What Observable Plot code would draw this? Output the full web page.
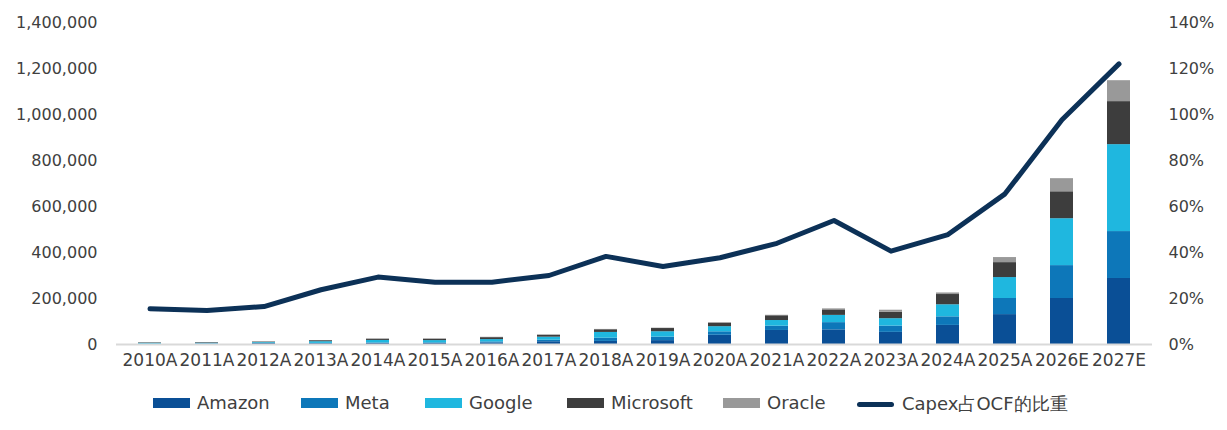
<!DOCTYPE html>
<html>
<head>
<meta charset="utf-8">
<script src="https://cdn.jsdelivr.net/npm/d3@7"></script>
<script src="https://cdn.jsdelivr.net/npm/@observablehq/plot@0.6"></script>
<style>
  body { margin: 0; background: #fff; font-family: "DejaVu Sans", sans-serif; color: #404040; }
  #legend { position: relative; height: 50px; width: 1227px; }
  .item { position: absolute; top: 12px; display: flex; align-items: center; font-size: 18px; white-space: nowrap; }
  .sw { width: 37px; height: 10px; margin-right: 7px; }
  .ln { width: 37px; height: 5px; border-radius: 3px; margin-right: 8px; }
</style>
</head>
<body>
<div id="chart"></div>
<div id="legend"></div>
<script>
const years = ["2010A","2011A","2012A","2013A","2014A","2015A","2016A","2017A","2018A","2019A","2020A","2021A","2022A","2023A","2024A","2025A","2026E","2027E"];
const companies = ["Amazon","Meta","Google","Microsoft","Oracle"];
const colors = ["#0a4f96","#0d77b9","#1fb7df","#3d3d3d","#999999"];
const lineColor = "#0c3157";
const lineLabel = "Capex占OCF的比重";

const amazon    = [979, 1811, 3785, 3444, 4893, 4589, 6737, 11955, 13427, 16861, 40140, 61053, 63645, 52729, 83004, 130000, 200000, 287000];
const meta      = [293, 606, 1235, 1362, 1831, 2523, 4491, 6733, 13915, 15102, 15115, 18567, 31431, 27266, 37256, 70000, 143000, 204000];
const google    = [4018, 3438, 3273, 7358, 10959, 9915, 10212, 13184, 25139, 23548, 22281, 24640, 31485, 32251, 52535, 91000, 204000, 378000];
const microsoft = [1977, 2355, 2305, 4257, 5485, 5944, 8343, 8129, 11632, 13925, 15441, 20622, 23886, 28107, 44477, 65000, 117000, 187000];
const oracle    = [529, 450, 648, 650, 580, 1391, 1604, 2021, 1468, 1660, 1564, 2135, 4511, 8695, 6866, 22000, 57000, 91000];
const capexToOcf = [15.5, 14.8, 16.5, 23.8, 29.3, 27.1, 27.1, 30.0, 38.3, 33.9, 37.7, 44.0, 53.9, 40.6, 47.8, 65.5, 97.7, 122.0]; // percent

const leftTicks = [0, 200000, 400000, 600000, 800000, 1000000, 1200000, 1400000];
const rightTickLabels = ["0%","20%","40%","60%","80%","100%","120%","140%"];

const series = [amazon, meta, google, microsoft, oracle];
const bars = companies.flatMap((c, i) => years.map((y, j) => ({year: y, company: c, value: series[i][j]})));
// secondary axis: 140% maps onto 1,400,000
const ratio = years.map((y, j) => ({year: y, pct: capexToOcf[j], scaled: capexToOcf[j] * 10000}));

const chart = Plot.plot({
  width: 1227,
  height: 380,
  marginLeft: 116,
  marginRight: 75,
  marginTop: 22,
  marginBottom: 36,
  style: {fontFamily: "DejaVu Sans, sans-serif", fontSize: "16px", color: "#404040", background: "#fff", overflow: "visible"},
  x: {domain: years, paddingInner: 0.6, paddingOuter: 0.3, label: null},
  y: {domain: [0, 1400000], label: null},
  color: {domain: companies, range: colors},
  marks: [
    Plot.barY(bars, {x: "year", y: "value", fill: "company"}),
    Plot.ruleY([0], {stroke: "#d9d9d9", strokeWidth: 2}),
    Plot.lineY(ratio, {x: "year", y: "scaled", stroke: lineColor, strokeWidth: 5, strokeLinejoin: "round", strokeLinecap: "round"}),
    Plot.axisY({ticks: leftTicks, tickFormat: d3.format(","), tickSize: 0, tickPadding: 19, label: null}),
    Plot.axisY({anchor: "right", ticks: leftTicks, tickFormat: d => rightTickLabels[leftTicks.indexOf(d)], tickSize: 0, tickPadding: 16, label: null}),
    Plot.axisX({tickSize: 0, tickPadding: 9, label: null, fontSize: 17})
  ]
});
document.getElementById("chart").appendChild(chart);

const legend = document.getElementById("legend");
const lefts = [153, 301, 425, 567, 723];
companies.forEach((c, i) => {
  const it = document.createElement("div");
  it.className = "item";
  it.style.left = lefts[i] + "px";
  it.innerHTML = `<span class="sw" style="background:${colors[i]}"></span><span>${c}</span>`;
  legend.appendChild(it);
});
const li = document.createElement("div");
li.className = "item";
li.style.left = "857px";
li.innerHTML = `<span class="ln" style="background:${lineColor}"></span><span>${lineLabel}</span>`;
legend.appendChild(li);
</script>
</body>
</html>
